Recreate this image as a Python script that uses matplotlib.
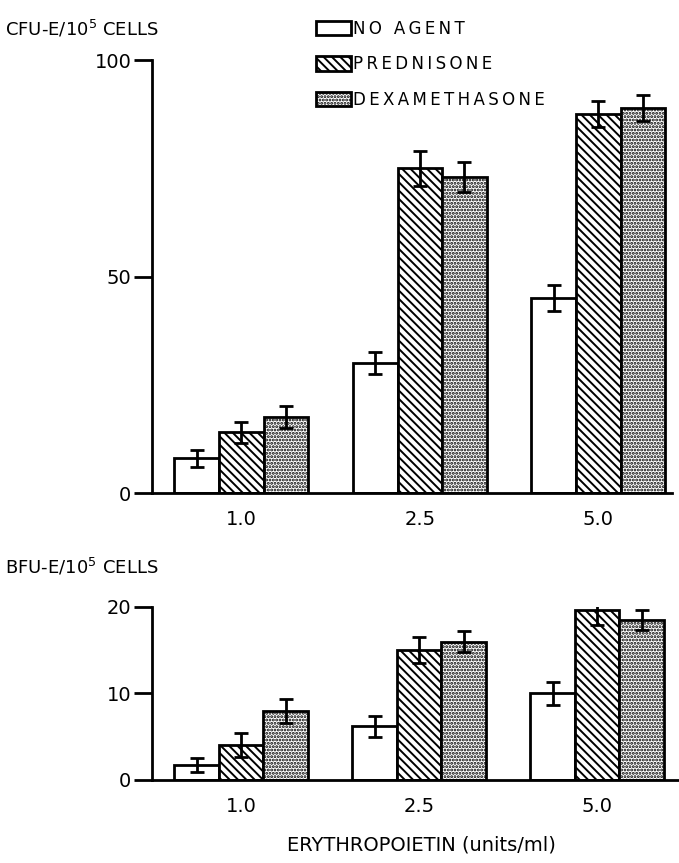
"""CFU-E and BFU-E colonies vs erythropoietin dose, with and without steroids."""

import numpy as np
import matplotlib
matplotlib.use('Agg')
import matplotlib.pyplot as plt

# =============================================================================
# Data
# =============================================================================
DOSES = ['1.0', '2.5', '5.0']
AGENTS = ['NO AGENT', 'PREDNISONE', 'DEXAMETHASONE']

CFU_NONE = [8, 30, 45]
CFU_NONE_ERR = [2, 2.5, 3]
CFU_PRED = [14, 75, 87.5]
CFU_PRED_ERR = [2.5, 4, 3]
CFU_DEX = [17.5, 73, 89]
CFU_DEX_ERR = [2.5, 3.5, 3]

BFU_NONE = [1.7, 6.2, 10]
BFU_NONE_ERR = [0.8, 1.2, 1.3]
BFU_PRED = [4, 15, 19.6]
BFU_PRED_ERR = [1.4, 1.5, 1.7]
BFU_DEX = [8, 16, 18.5]
BFU_DEX_ERR = [1.4, 1.2, 1.2]

HATCHES = ['', '\\\\\\\\', '.....']
WIDTH = 0.25

plt.rcParams['font.family'] = 'DejaVu Sans'
plt.rcParams['hatch.linewidth'] = 1.4


def spaced(s):
    return '\u2009'.join(s)


def draw_bars(ax, series, errors):
    x = np.arange(len(DOSES))
    bars = []
    for i, (vals, errs) in enumerate(zip(series, errors)):
        b = ax.bar(x + (i - 1) * WIDTH, vals, WIDTH, color='white',
                   edgecolor='black', linewidth=2.0, hatch=HATCHES[i],
                   label=spaced(AGENTS[i]), zorder=2)
        ax.errorbar(x + (i - 1) * WIDTH, vals, yerr=errs, fmt='none',
                    ecolor='black', elinewidth=2.0, capsize=5,
                    capthick=2.0, zorder=3)
        bars.append(b)
    ax.set_xticks(x)
    ax.set_xticklabels(DOSES)
    for side in ['top', 'right']:
        ax.spines[side].set_visible(False)
    ax.spines['left'].set_linewidth(2.0)
    ax.spines['bottom'].set_linewidth(2.0)
    ax.tick_params(axis='y', direction='out', length=13, width=2.0,
                   labelsize=14, pad=2)
    ax.tick_params(axis='x', length=0, labelsize=14, pad=12)
    return bars


# =============================================================================
# Plot
# =============================================================================
fig = plt.figure(figsize=(6.79, 8.63), dpi=100)

ax1 = fig.add_axes([0.224, 0.4287, 0.765, 0.5017])
bars = draw_bars(ax1, [CFU_NONE, CFU_PRED, CFU_DEX],
                 [CFU_NONE_ERR, CFU_PRED_ERR, CFU_DEX_ERR])
ax1.set_xlim(-0.5, 2.41)
ax1.set_ylim(0, 100)
ax1.set_yticks([0, 50, 100])

ax2 = fig.add_axes([0.224, 0.0962, 0.776, 0.2005])
draw_bars(ax2, [BFU_NONE, BFU_PRED, BFU_DEX],
          [BFU_NONE_ERR, BFU_PRED_ERR, BFU_DEX_ERR])
ax2.set_xlim(-0.5, 2.46)
ax2.set_ylim(0, 20)
ax2.set_yticks([0, 10, 20])

fig.text(0.008, 0.967, 'CFU-E/10$^5$ CELLS', fontsize=13, va='center')
fig.text(0.008, 0.343, 'BFU-E/10$^5$ CELLS', fontsize=13, va='center')
fig.text(0.62, 0.021, 'ERYTHROPOIETIN (units/ml)', fontsize=14,
         ha='center', va='center')

fig.legend(handles=bars, loc='upper left', bbox_to_anchor=(0.456, 0.985),
           frameon=False, fontsize=12, handlelength=2.1, handleheight=0.95,
           handletextpad=0.1, labelspacing=1.05, borderaxespad=0)

fig.savefig('out.png', dpi=100)
